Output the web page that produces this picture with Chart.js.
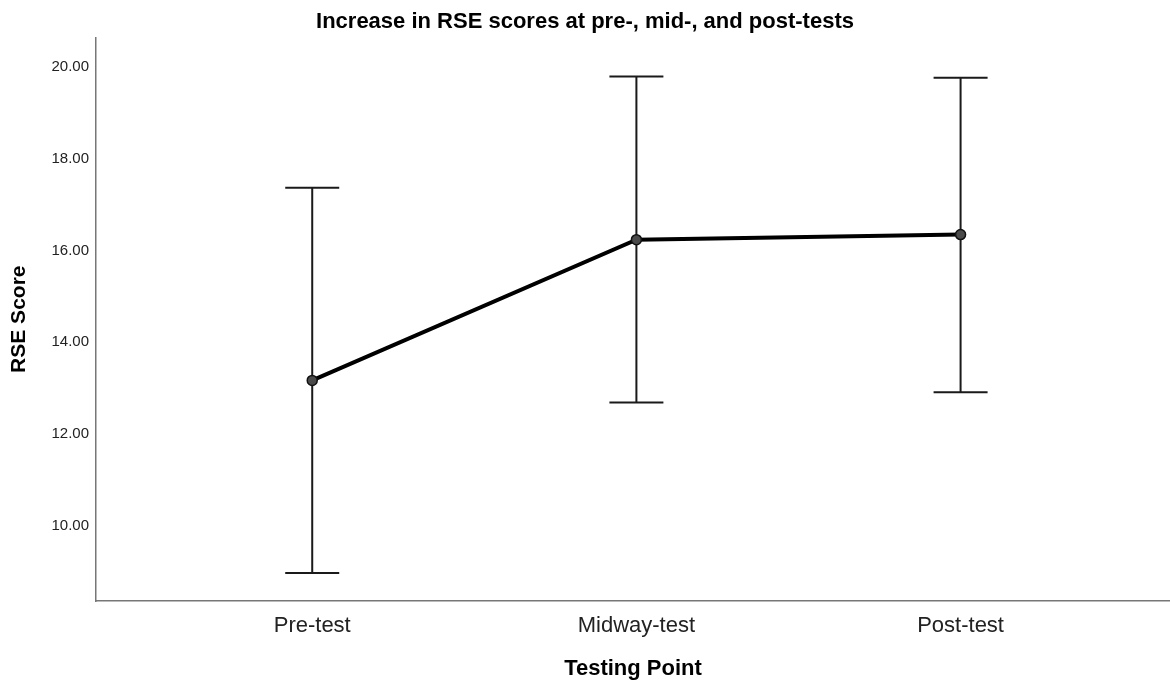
<!DOCTYPE html>
<html>
<head>
<meta charset="utf-8">
<script src="https://cdn.jsdelivr.net/npm/chart.js@4.4.1/dist/chart.umd.min.js"></script>
<style>
  body { margin: 0; background: #fff; }
  #wrap { width: 1170px; height: 682px; }
</style>
</head>
<body>
<div id="wrap"><canvas id="rseChart" width="1170" height="682"></canvas></div>
<script>
// datos
const categorias = ['Pre-test', 'Midway-test', 'Post-test'];
const posiciones = [1, 2, 3];
const medias = [13.17, 16.24, 16.35];
const limiteInf = [8.97, 12.69, 12.91];
const limiteSup = [17.37, 19.80, 19.77];
const ticksY = [10, 12, 14, 16, 18, 20];

const fuente = "'Liberation Sans', Arial, sans-serif";

// barras de error dibujadas con las escalas del chart
const barrasError = {
    id: 'barrasError',
    beforeDatasetsDraw(chart) {
        const { ctx, scales: { x, y } } = chart;
        const cap = 27;
        ctx.save();
        ctx.strokeStyle = '#1a1a1a';
        ctx.lineWidth = 2;
        posiciones.forEach((p, i) => {
            const px = x.getPixelForValue(p);
            const yTop = y.getPixelForValue(limiteSup[i]);
            const yBot = y.getPixelForValue(limiteInf[i]);
            ctx.beginPath();
            ctx.moveTo(px, yTop); ctx.lineTo(px, yBot);
            ctx.moveTo(px - cap, yTop); ctx.lineTo(px + cap, yTop);
            ctx.moveTo(px - cap, yBot); ctx.lineTo(px + cap, yBot);
            ctx.stroke();
        });
        ctx.restore();
    }
};

new Chart(document.getElementById('rseChart'), {
    type: 'line',
    data: {
        datasets: [{
            data: posiciones.map((p, i) => ({ x: p, y: medias[i] })),
            borderColor: '#000',
            borderWidth: 4,
            pointRadius: 5,
            pointBackgroundColor: '#4a4a4a',
            pointBorderColor: '#111',
            pointBorderWidth: 1.5,
            tension: 0
        }]
    },
    options: {
        responsive: false,
        animation: false,
        layout: { padding: 0, autoPadding: false },
        plugins: {
            legend: { display: false },
            tooltip: { enabled: false },
            title: {
                display: true,
                text: 'Increase in RSE scores at pre-, mid-, and post-tests',
                color: '#000',
                font: { family: fuente, size: 22, weight: 'bold' },
                padding: { top: 9, bottom: 2 }
            }
        },
        scales: {
            x: {
                type: 'linear',
                min: 0.333,
                max: 3.646,
                grid: { display: false, drawTicks: false },
                border: { display: true, color: '#777', width: 1.5 },
                afterBuildTicks: (s) => { s.ticks = posiciones.map(v => ({ value: v })); },
                afterFit: (s) => { s.height = 81; },
                ticks: {
                    padding: 12,
                    color: '#222',
                    font: { family: fuente, size: 22 },
                    callback: (v) => categorias[posiciones.indexOf(v)] || ''
                },
                title: {
                    display: true,
                    text: 'Testing Point',
                    color: '#000',
                    font: { family: fuente, size: 22, weight: 'bold' },
                    padding: { top: 0, bottom: 0 }
                }
            },
            y: {
                min: 8.36,
                max: 20.65,
                grid: { display: false, drawTicks: false },
                border: { display: true, color: '#777', width: 1.5 },
                afterBuildTicks: (s) => { s.ticks = ticksY.map(v => ({ value: v })); },
                afterFit: (s) => { s.width = 96; },
                ticks: {
                    padding: 7,
                    color: '#222',
                    font: { family: fuente, size: 15 },
                    callback: (v) => Number(v).toFixed(2)
                },
                title: {
                    display: true,
                    text: 'RSE Score',
                    color: '#000',
                    font: { family: fuente, size: 21, weight: 'bold' },
                    padding: { top: 7, bottom: 0 }
                }
            }
        }
    },
    plugins: [barrasError]
});
</script>
</body>
</html>
